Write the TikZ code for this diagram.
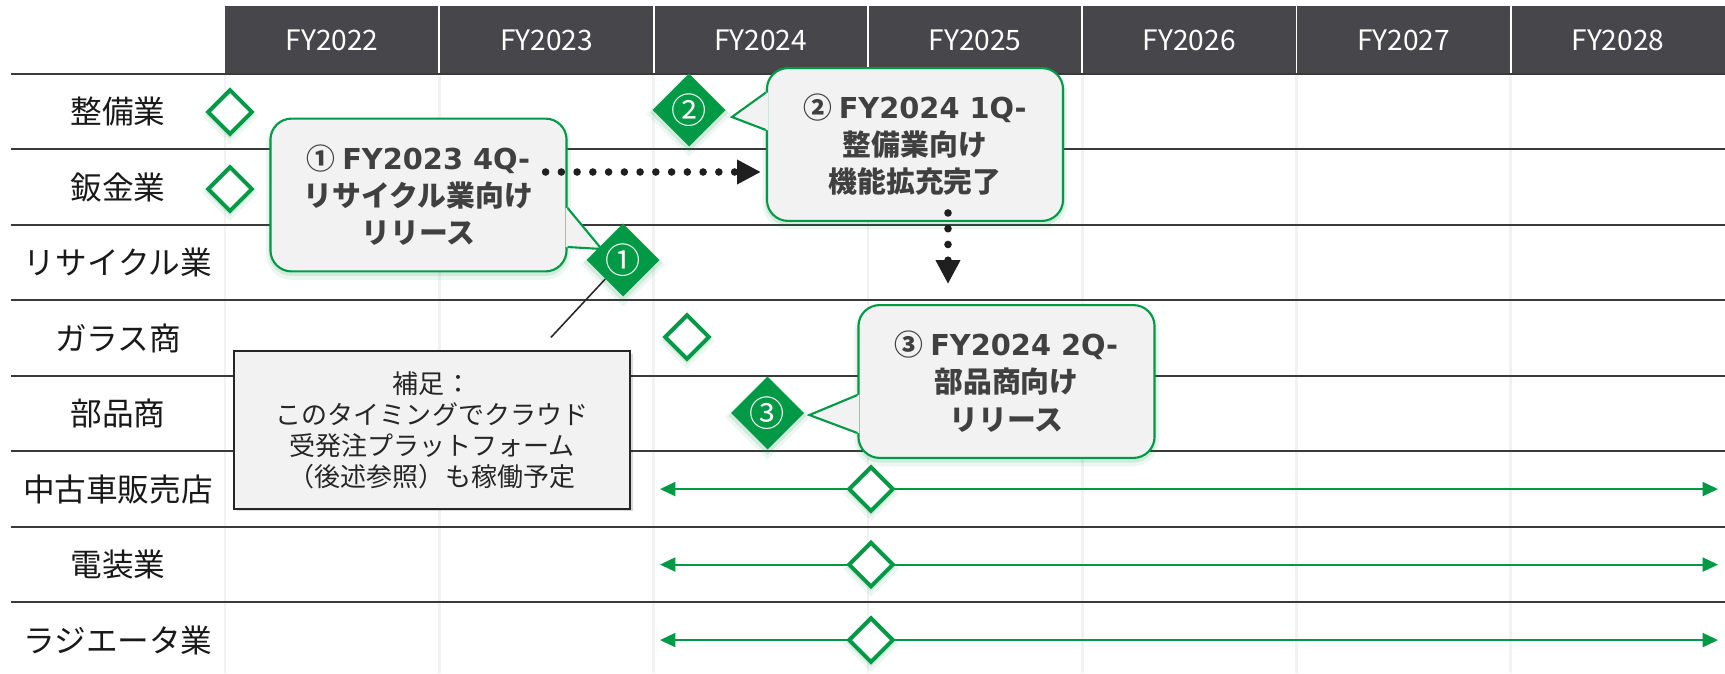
\documentclass[tikz,border=0pt]{standalone}
\usepackage{fontspec}
\setmainfont{Noto Sans CJK JP}
\newfontfamily\lat{DejaVu Sans}
\usetikzlibrary{arrows.meta,positioning,calc,shapes.geometric,shadows}
\definecolor{hdrgray}{HTML}{47474B}
\definecolor{msgreen}{HTML}{009A46}
\definecolor{boxgray}{HTML}{F2F2F2}
\definecolor{txtgray}{HTML}{404040}
\definecolor{linegray}{HTML}{3A3A3A}

\begin{document}
\begin{tikzpicture}[x=0.025cm,y=-0.025cm,>=Stealth,
 rowline/.style={linegray,line width=1.4pt},
 collab/.style={text=white,font=\fontsize{20}{24}\selectfont},
 rowlab/.style={text=black!90,font=\fontsize{22.5}{26}\selectfont},
 glow/.style={general shadow={draw=msgreen,line width=6pt,opacity=.07,shadow xshift=0pt,shadow yshift=-3pt},
  general shadow={draw=msgreen,line width=2.5pt,opacity=.12,shadow xshift=0pt,shadow yshift=-2pt}},
 opendia/.style={diamond,aspect=1,draw=msgreen,fill=white,line width=2.8pt,minimum size=1.13cm,inner sep=0pt,glow},
 filldia/.style={diamond,aspect=1,fill=msgreen,minimum size=1.83cm,inner sep=0pt,text=white,font=\fontsize{25}{25}\selectfont,glow},
 callbox/.style={rectangle,rounded corners=15pt,draw=msgreen,line width=1.5pt,fill=boxgray,minimum width=7.4cm,minimum height=3.82cm,align=center,text=txtgray,font=\bfseries\fontsize{20.5}{26.5}\selectfont,glow},
 ptr/.style={msgreen,line width=1.5pt,line join=miter},
 notebox/.style={rectangle,draw=black!85,line width=1.5pt,fill=boxgray,minimum width=9.9cm,minimum height=3.93cm,align=center,text=black!85,font=\fontsize{18.5}{22}\selectfont,drop shadow={fill=black,opacity=.15,shadow xshift=2pt,shadow yshift=-2pt}},
 dotline/.style={black!88,line width=5.4pt,line cap=round,dash pattern=on 0pt off 11.2pt,-{Triangle[length=17pt,width=16.5pt]}},
 garrow/.style={msgreen,line width=1.5pt,{Triangle[length=11pt,width=10pt]}-{Triangle[length=11pt,width=10pt]}}]
\useasboundingbox (0,0) rectangle (1725,673);
\fill[white] (0,0) rectangle (1725,673);
\fill[hdrgray] (225,6) rectangle (1725,73.8);
\foreach \yr [count=\i from 0] in {2022,...,2028} {
 \node[collab] (h\yr) at ({225+214.3*(\i+.5)},40) {FY\yr};
}
\foreach \i in {1,...,6} \draw[white,line width=1.4pt] ({225+214.3*\i},6) -- ({225+214.3*\i},73.8);
\foreach \i in {0,...,6} \draw[black!5,line width=2pt] ({225+214.3*\i},73.8) -- ({225+214.3*\i},673);
\foreach \k in {0,...,7} \draw[rowline] (11,{73.8+75.5*\k}) -- (1725,{73.8+75.5*\k});
\foreach \lab [count=\i] in {整備業,鈑金業,リサイクル業,ガラス商,部品商,中古車販売店,電装業,ラジエータ業} {
 \node[rowlab] (row\i) at (118,{73.8+75.5*(\i-.5)}) {\lab};
}
\foreach \i in {6,7,8} {
 \coordinate (gl\i) at (660,{73.8+75.5*(\i-.5)});
 \coordinate (gr\i) at (1718,{73.8+75.5*(\i-.5)});
 \draw[garrow] (gl\i) -- (gr\i);
 \node[opendia] (m\i) at (871,{73.8+75.5*(\i-.5)}) {};
}
\node[opendia] (m1) at (230,112) {};
\node[opendia] (m2) at (230,189) {};
\node[opendia] (m4) at (687,337) {};
\node[notebox] (note) at (432,430) {補足：\\このタイミングでクラウド\\受発注プラットフォーム\\（後述参照）も稼働予定};
\node[callbox] (c1) at (418.5,195) {① {\lat FY2023 4Q-}\\リサイクル業向け\\リリース};
\node[callbox] (c2) at (915,144.5) {② {\lat FY2024 1Q-}\\整備業向け\\機能拡充完了};
\node[callbox] (c3) at (1006.5,381.5) {③ {\lat FY2024 2Q-}\\部品商向け\\リリース};
\foreach \c/\s/\d/\a/\b/\tx/\ty in {c1/east/-2/13/52/34/54,c2/west/2/-52/-14.5/-34/-27.5,c3/west/2/13.5/51.5/-48/33.5} {
 \fill[boxgray] ($(\c.\s)+(\d,\a)$) -- ($(\c.\s)+(0,\a)$) -- ($(\c.\s)+(\tx,\ty)$) -- ($(\c.\s)+(0,\b)$) -- ($(\c.\s)+(\d,\b)$) -- cycle;
 \draw[ptr] ($(\c.\s)+(0,\a)$) -- ($(\c.\s)+(\tx,\ty)$) -- ($(\c.\s)+(0,\b)$);
}
\node[filldia] (d1) at (623,260) {①};
\node[filldia] (d2) at (689,110) {②};
\node[filldia] (d3) at (767.5,413) {③};
\coordinate (nt) at ($(note.north)+(119,-13)$);
\draw[black!85,line width=1.1pt] (nt) -- (d1);
\draw[dotline] ($(c1.east)+(-22,-23)$) -- ($(c2.west)+(-5,27.5)$);
\draw[dotline] ($(c2.south)+(33,-9)$) -- ($(c3.north)+(-58.5,-20)$);
\end{tikzpicture}
\end{document}
